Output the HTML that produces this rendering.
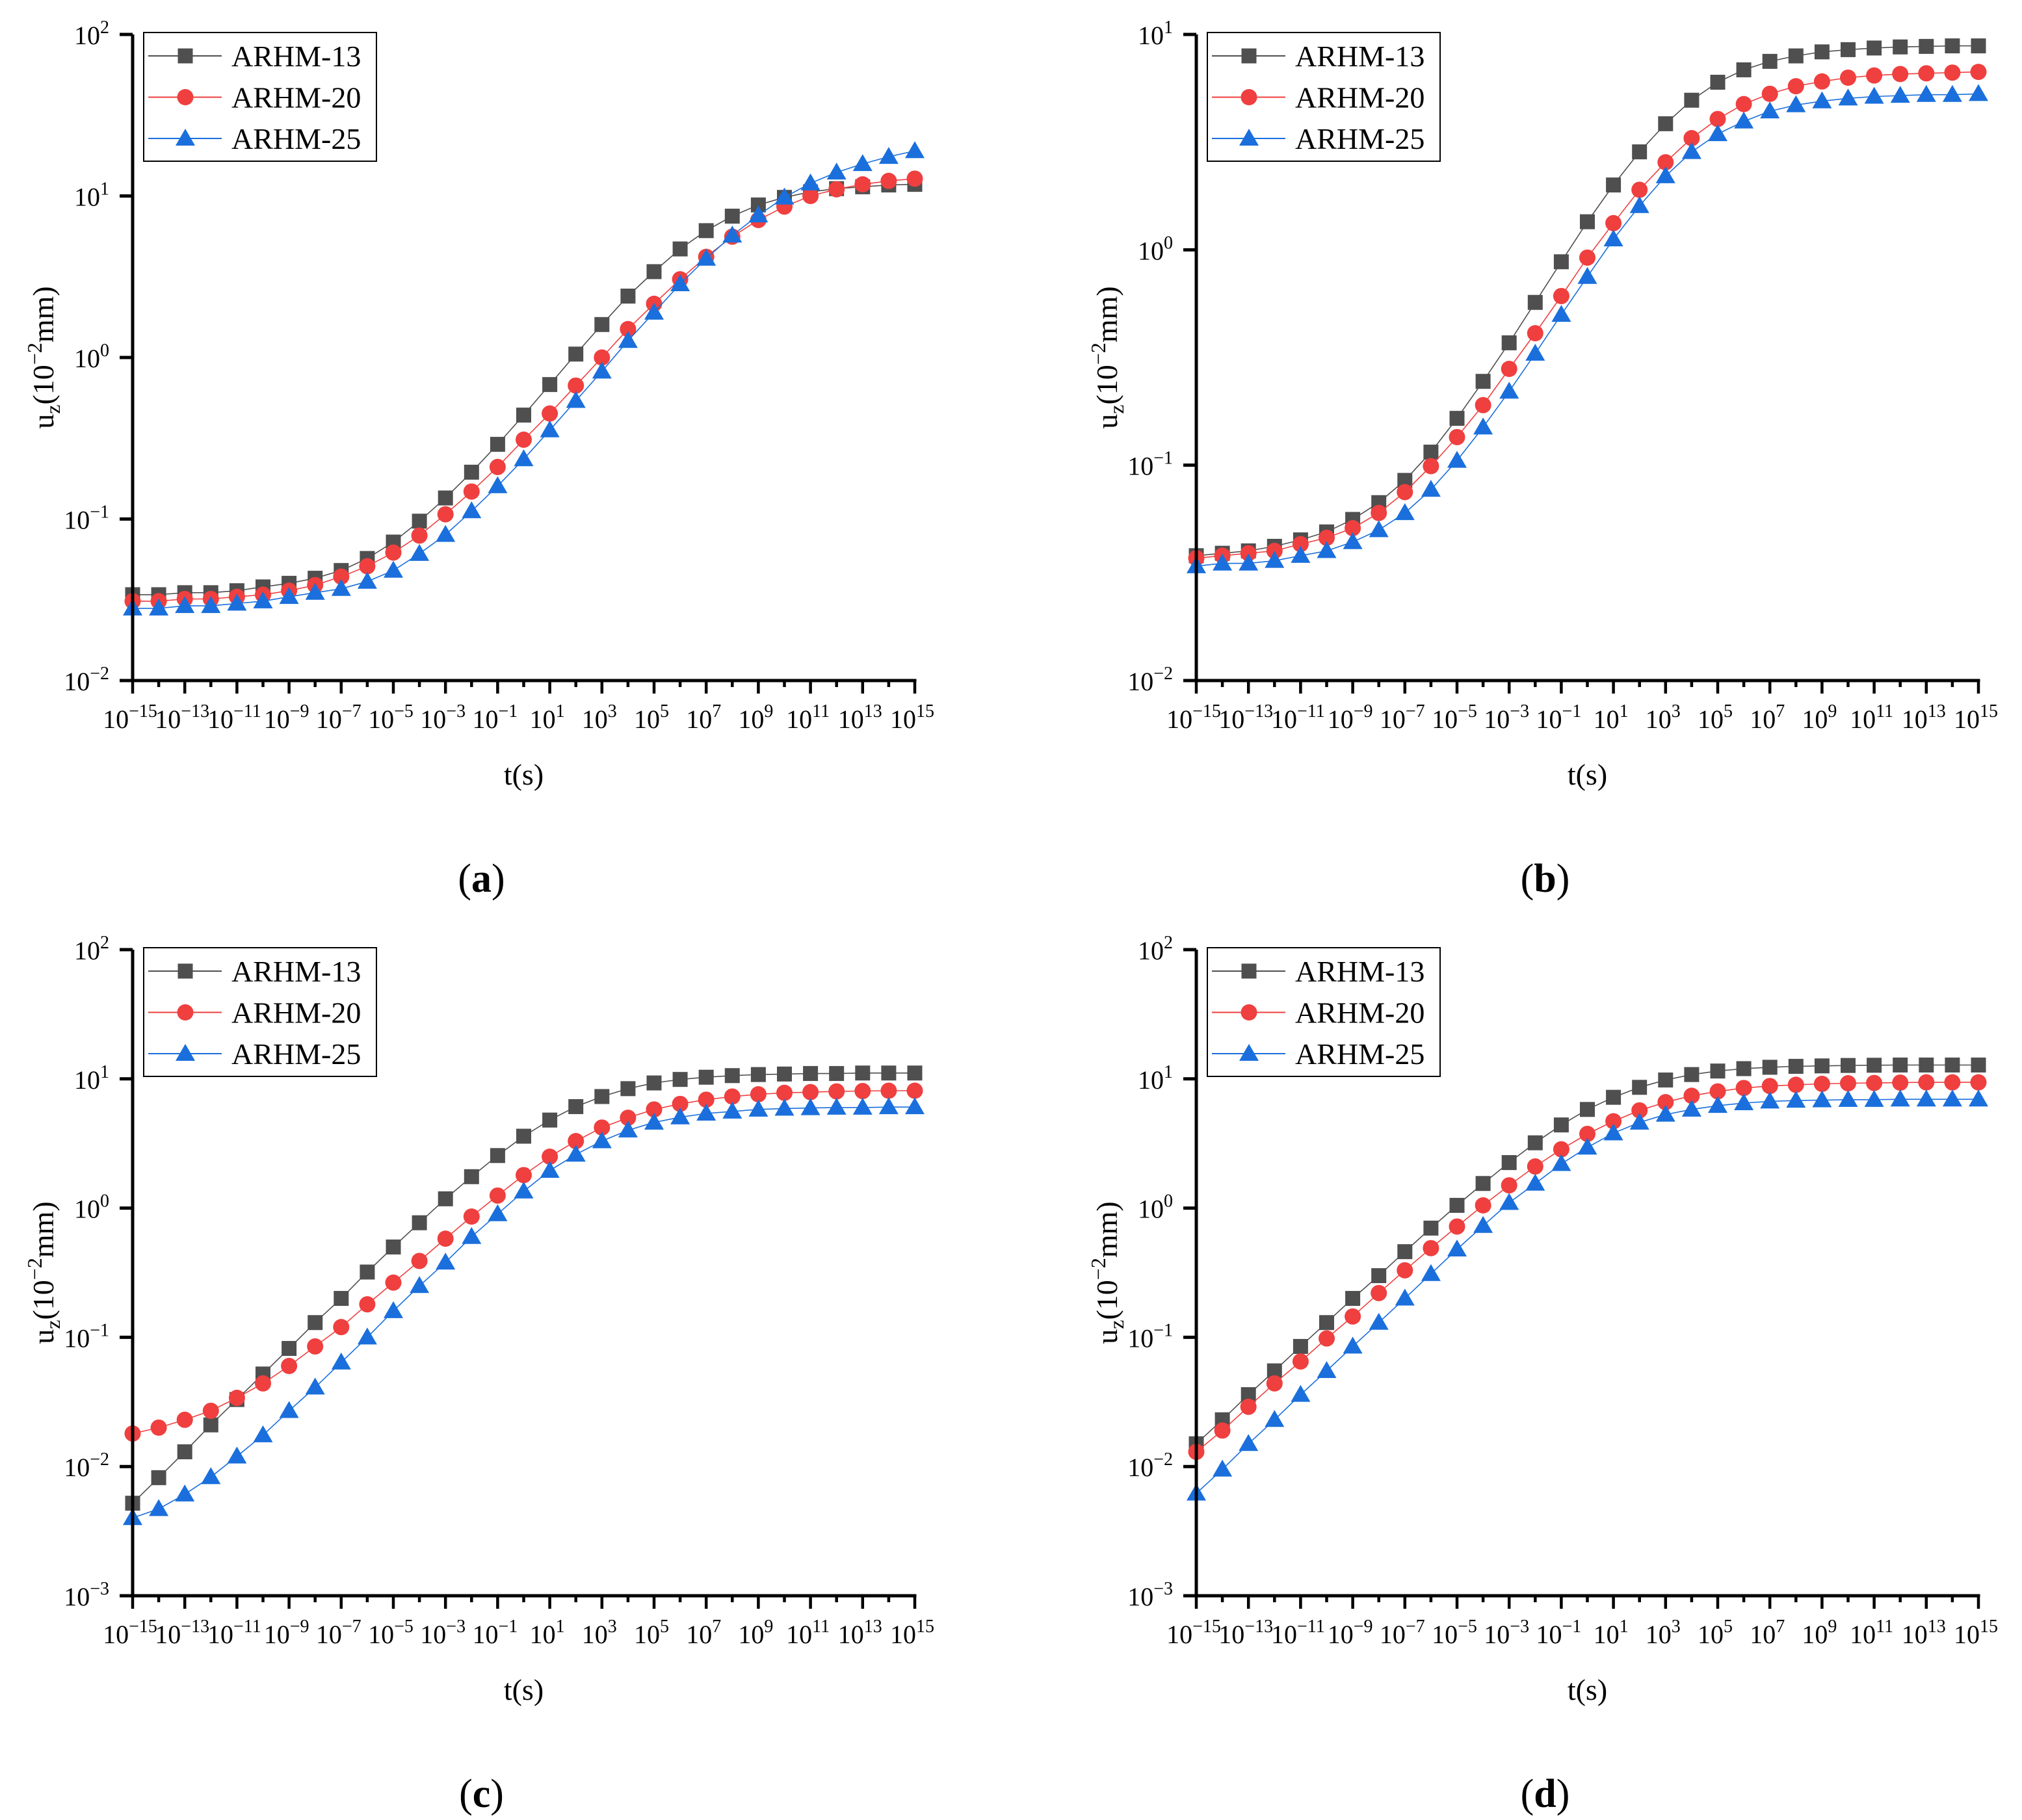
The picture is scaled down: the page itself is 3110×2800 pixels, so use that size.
<!DOCTYPE html>
<html><head><meta charset="utf-8">
<style>
html,body{margin:0;padding:0;background:#fff;}
svg{display:block;font-family:"Liberation Serif",serif;}
</style></head>
<body>
<svg id="chart" width="3110" height="2800" viewBox="0 0 3110 2800" xmlns="http://www.w3.org/2000/svg"></svg>
<script>
const xExps = [-15,-14,-13,-12,-11,-10,-9,-8,-7,-6,-5,-4,-3,-2,-1,0,1,2,3,4,5,6,7,8,9,10,11,12,13,14,15];
const seriesNames = ["ARHM-13","ARHM-20","ARHM-25"];
const xTickExps = [-15,-13,-11,-9,-7,-5,-3,-1,1,3,5,7,9,11,13,15];

const a13 = [0.034,0.034,0.035,0.035,0.036,0.038,0.040,0.043,0.048,0.057,0.072,0.097,0.135,0.195,0.29,0.44,0.68,1.05,1.6,2.4,3.4,4.7,6.1,7.5,8.8,9.8,10.6,11.1,11.4,11.7,11.8];
const a20 = [0.031,0.031,0.032,0.032,0.033,0.034,0.036,0.039,0.044,0.051,0.062,0.079,0.107,0.148,0.21,0.31,0.45,0.67,1.0,1.5,2.15,3.05,4.2,5.6,7.1,8.6,10.0,11.0,11.8,12.4,12.8];
const a25 = [0.028,0.028,0.029,0.029,0.030,0.031,0.033,0.035,0.037,0.041,0.048,0.061,0.080,0.112,0.16,0.235,0.355,0.54,0.82,1.27,1.9,2.85,4.1,5.7,7.6,9.8,12.0,14.0,15.8,17.5,19.0];

const b13 = [0.038,0.039,0.040,0.042,0.045,0.049,0.056,0.067,0.085,0.115,0.165,0.245,0.37,0.57,0.88,1.35,2.0,2.85,3.85,4.95,6.0,6.85,7.5,7.95,8.3,8.5,8.65,8.75,8.8,8.85,8.85];
const b20 = [0.037,0.038,0.039,0.040,0.043,0.046,0.051,0.060,0.075,0.099,0.135,0.19,0.28,0.41,0.61,0.92,1.33,1.9,2.55,3.3,4.05,4.75,5.3,5.75,6.05,6.3,6.45,6.55,6.6,6.65,6.7];
const b25 = [0.034,0.035,0.035,0.036,0.038,0.040,0.044,0.050,0.060,0.077,0.105,0.15,0.22,0.33,0.5,0.75,1.12,1.6,2.2,2.85,3.45,3.95,4.4,4.7,4.9,5.05,5.15,5.2,5.25,5.25,5.3];

const c13 = [0.0052,0.0082,0.013,0.021,0.033,0.052,0.082,0.13,0.2,0.32,0.5,0.77,1.18,1.75,2.55,3.6,4.8,6.1,7.3,8.4,9.3,9.9,10.3,10.6,10.8,10.9,11.0,11.0,11.1,11.1,11.1];
const c20 = [0.018,0.020,0.023,0.027,0.034,0.044,0.06,0.085,0.12,0.18,0.265,0.39,0.58,0.86,1.25,1.8,2.5,3.3,4.2,5.0,5.8,6.4,6.9,7.3,7.6,7.8,7.9,8.0,8.05,8.1,8.1];
const c25 = [0.0040,0.0047,0.0061,0.0083,0.012,0.0175,0.027,0.041,0.064,0.10,0.16,0.25,0.38,0.6,0.9,1.35,1.95,2.6,3.3,4.0,4.6,5.05,5.4,5.6,5.8,5.9,5.95,6.0,6.0,6.05,6.05];

const d13 = [0.015,0.023,0.036,0.055,0.085,0.13,0.2,0.3,0.46,0.7,1.05,1.55,2.25,3.2,4.4,5.8,7.2,8.6,9.8,10.8,11.5,12.0,12.3,12.5,12.6,12.7,12.75,12.8,12.8,12.8,12.8];
const d20 = [0.013,0.019,0.029,0.044,0.065,0.098,0.145,0.22,0.33,0.49,0.72,1.05,1.5,2.1,2.85,3.75,4.7,5.7,6.6,7.4,8.0,8.5,8.8,9.0,9.15,9.25,9.3,9.35,9.4,9.4,9.4];
const d25 = [0.0062,0.0095,0.015,0.023,0.036,0.055,0.085,0.13,0.2,0.31,0.48,0.73,1.1,1.55,2.2,2.95,3.8,4.6,5.3,5.8,6.2,6.5,6.7,6.8,6.85,6.9,6.9,6.95,6.95,6.95,6.95];

const yTicksAB = { a:[2,1,0,-1,-2], b:[1,0,-1,-2], c:[2,1,0,-1,-2,-3], d:[2,1,0,-1,-2,-3] };

const NS = "http://www.w3.org/2000/svg";
const svg = document.getElementById("chart");
const colors = ["#4f4f4f","#ef3f3f","#1a6fdc"];

function mk(tag, attrs, parent){
  const e = document.createElementNS(NS, tag);
  for (const k in attrs) e.setAttribute(k, attrs[k]);
  (parent||svg).appendChild(e);
  return e;
}
function powLabel(parent, x, y, exp, anchor){
  const t = mk("text", {x:x, y:y, "font-size":40, "text-anchor":anchor, fill:"#000"}, parent);
  const s1 = document.createElementNS(NS,"tspan"); s1.textContent = "10"; t.appendChild(s1);
  const s2 = document.createElementNS(NS,"tspan");
  s2.setAttribute("dy","-17"); s2.setAttribute("font-size","28");
  s2.textContent = (exp<0?"\u2212":"") + Math.abs(exp);
  t.appendChild(s2);
  return t;
}
function marker(g, k, x, y){
  let m;
  if (k===0) m = mk("rect",{x:x-11.5,y:y-11.5,width:23,height:23,fill:colors[0]},g);
  else if (k===1) m = mk("circle",{cx:x,cy:y,r:12.5,fill:colors[1]},g);
  else m = mk("polygon",{points:`${x},${y-15} ${x+15},${y+11} ${x-15},${y+11}`,fill:colors[2]},g);
  return m;
}

function panel(id, L, R, T, B, yMax, yMin, data, yt, letter){
  const g = mk("g",{});
  
  
  const xs = e => L + (e - (-15)) / 30 * (R - L);
  const ys = v => T + (yMax - Math.log10(v)) / (yMax - yMin) * (B - T);
  data.forEach((arr,k)=>{
    const sg = mk("g",{},g);
    
    
    const pts = arr.map((v,i)=>xs(xExps[i]).toFixed(1)+","+ys(v).toFixed(1)).join(" ");
    const pl = mk("polyline",{points:pts,fill:"none",stroke:colors[k],"stroke-width":1.6},sg);
    
    
    arr.forEach((v,i)=>{
      const m = marker(sg,k,xs(xExps[i]),ys(v));
      
      
    });
  });
  const ax = mk("g",{},g);
  
  
  mk("line",{x1:L,y1:T,x2:L,y2:B+2.5,stroke:"#000","stroke-width":5},ax);
  mk("line",{x1:L-2.5,y1:B,x2:R+2.5,y2:B,stroke:"#000","stroke-width":5},ax);
  for (let e=-15;e<=15;e++){
    const major = (e+15)%2===0;
    mk("line",{x1:xs(e),y1:B,x2:xs(e),y2:B+(major?20:10),stroke:"#000","stroke-width":4.5},ax);
  }
  xTickExps.forEach(e=>{
    const t = powLabel(ax, xs(e)-4, B+73, e, "middle");
    
    
  });
  yt.forEach(e=>{
    const y = ys(Math.pow(10,e));
    mk("line",{x1:L-20,y1:y,x2:L,y2:y,stroke:"#000","stroke-width":5},ax);
    const t = powLabel(ax, L-36, y+15, e, "end");
    
    
  });
  const xt = mk("text",{x:(L+R)/2,y:B+160,"font-size":46,"text-anchor":"middle"},g);
  xt.textContent = "t(s)";
  
  
  const cy = (T+B)/2, cx = L-122;
  const ytt = mk("text",{x:cx,y:cy,"font-size":46,"text-anchor":"middle",transform:`rotate(-90 ${cx} ${cy})`},g);
  ytt.innerHTML = 'u<tspan font-size="32" dy="10">z</tspan><tspan dy="-10">(10</tspan><tspan font-size="32" dy="-18">\u22122</tspan><tspan dy="18">mm)</tspan>';
  
  
  const pl = mk("text",{x:(L+R)/2-65,y:B+325,"font-size":62,"text-anchor":"middle"},g);
  pl.innerHTML = '(<tspan font-weight="bold">'+letter+'</tspan>)';
  
  
  const lg = mk("g",{},g);
  
  
  mk("rect",{x:L+17,y:T-3,width:358,height:198,fill:"#fff",stroke:"#000","stroke-width":2},lg);
  seriesNames.forEach((n,k)=>{
    const ry = T+33+k*63.5;
    const eg = mk("g",{},lg);
    
    
    mk("line",{x1:L+24,y1:ry,x2:L+137,y2:ry,stroke:colors[k],"stroke-width":2},eg);
    marker(eg,k,L+81,ry);
    const t = mk("text",{x:L+152,y:ry+16,"font-size":46},eg);
    t.textContent = n;
  });
}

panel("a", 204, 1407, 53, 1047, 2, -2, [a13,a20,a25], yTicksAB.a, "a");
panel("b", 1840, 3043, 53, 1047, 1, -2, [b13,b20,b25], yTicksAB.b, "b");
panel("c", 204, 1407, 1461, 2455, 2, -3, [c13,c20,c25], yTicksAB.c, "c");
panel("d", 1840, 3043, 1461, 2455, 2, -3, [d13,d20,d25], yTicksAB.d, "d");
</script>
</body></html>
